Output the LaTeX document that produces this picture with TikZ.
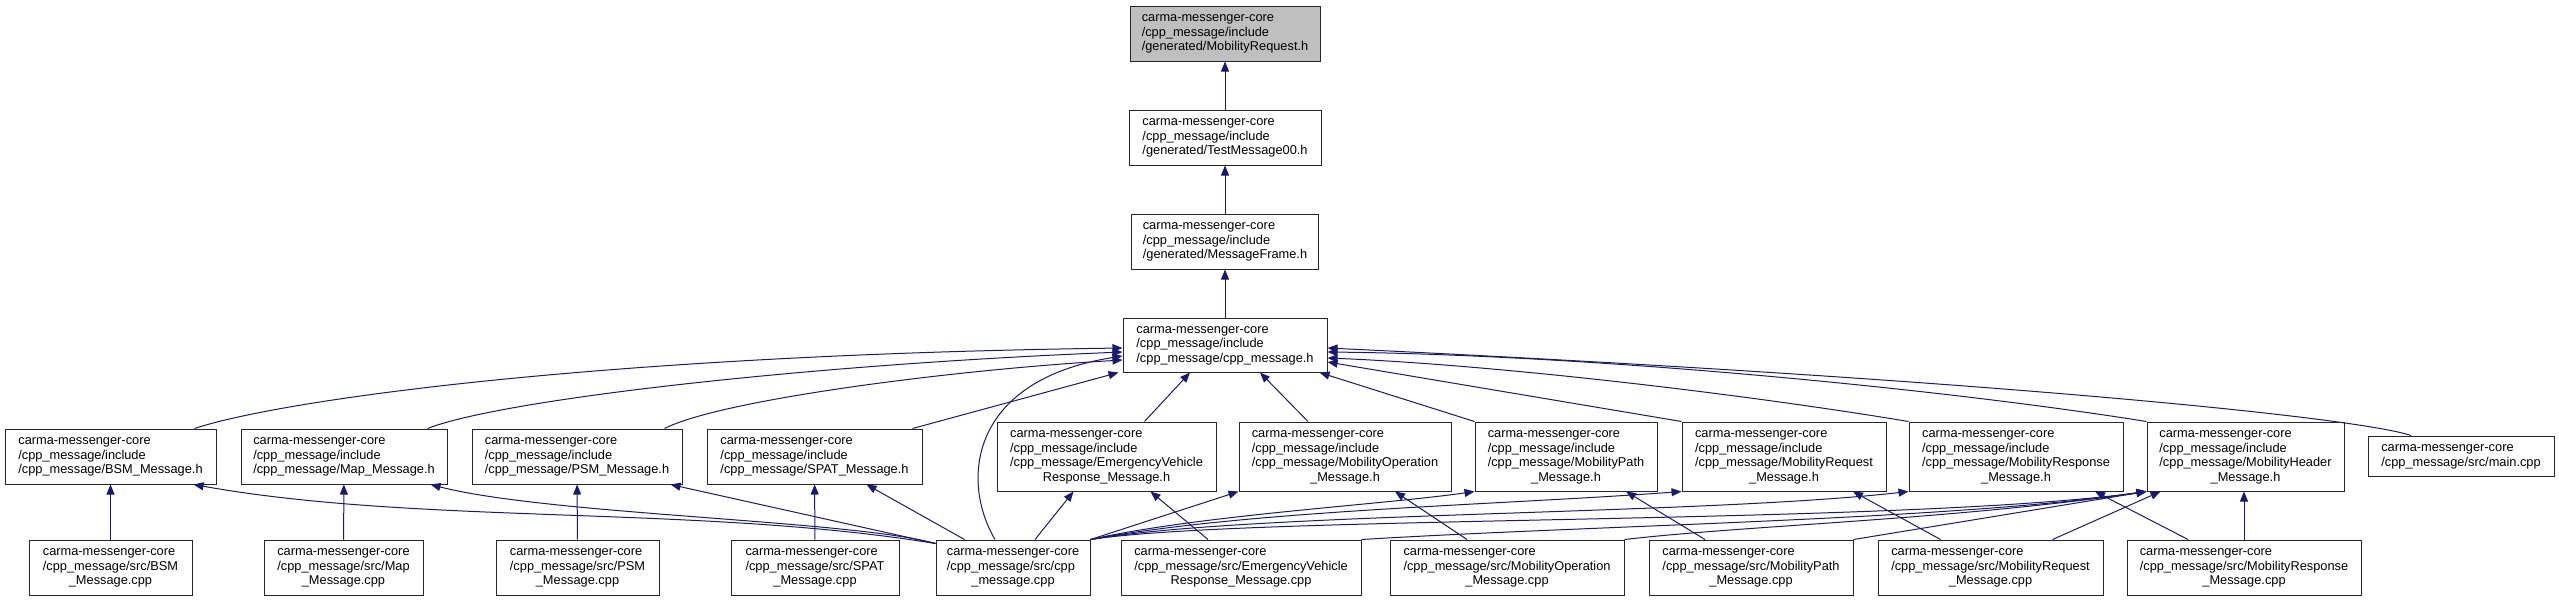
\documentclass[tikz,border=0pt]{standalone}
\usepackage{fontspec}
\setmainfont{Liberation Sans}
\usepackage{xcolor}
\usepackage{tikz}
\usetikzlibrary{arrows.meta,calc}
\definecolor{edgeblue}{RGB}{25,25,112}
% file label: left lines, last line centred
\newcommand{\flab}[2]{\begin{tabular}{@{}l@{}}#1\\\multicolumn{1}{@{}c@{}}{#2}\end{tabular}}
\begin{document}
\begin{tikzpicture}[x=0.75pt,y=-0.75pt,
  sz/.style 2 args={minimum width=#1*0.75pt,minimum height=#2*0.75pt},
  fnode/.style={draw=black!85,line width=0.75pt,inner sep=0pt,fill=white,font=\fontsize{9.6}{10.9}\selectfont},
  fsel/.style={fnode,fill=black!25},
  inc/.style={-{Triangle[length=7.5pt,width=6pt]},draw=edgeblue,line width=0.75pt}]
\useasboundingbox (0,0) rectangle (2559,601);
% include chain
\node[fsel,sz={190}{55}]  (req)   at (1225,33.5)  {\flab{carma-messenger-core\\/cpp\_message/include}{/generated/MobilityRequest.h}};
\node[fnode,sz={192}{55}] (test)  at (1225,137.5) {\flab{carma-messenger-core\\/cpp\_message/include}{/generated/TestMessage00.h}};
\node[fnode,sz={187}{55}] (frame) at (1225,241.5) {\flab{carma-messenger-core\\/cpp\_message/include}{/generated/MessageFrame.h}};
\node[fnode,sz={204}{54}] (cpph)  at (1225,345)   {\flab{carma-messenger-core\\/cpp\_message/include}{/cpp\_message/cpp\_message.h}};
% headers
\node[fnode,sz={211}{55}] (bsmh)   at (110.5,456.5)  {\flab{carma-messenger-core\\/cpp\_message/include}{/cpp\_message/BSM\_Message.h}};
\node[fnode,sz={206}{55}] (maph)   at (344,456.5)    {\flab{carma-messenger-core\\/cpp\_message/include}{/cpp\_message/Map\_Message.h}};
\node[fnode,sz={210}{55}] (psmh)   at (577,456.5)    {\flab{carma-messenger-core\\/cpp\_message/include}{/cpp\_message/PSM\_Message.h}};
\node[fnode,sz={215}{55}] (spath)  at (814.5,456.5)  {\flab{carma-messenger-core\\/cpp\_message/include}{/cpp\_message/SPAT\_Message.h}};
\node[fnode,sz={219}{69}] (evh)    at (1106.5,456.5) {\flab{carma-messenger-core\\/cpp\_message/include\\/cpp\_message/EmergencyVehicle}{Response\_Message.h}};
\node[fnode,sz={212}{69}] (moph)   at (1345,456.5)   {\flab{carma-messenger-core\\/cpp\_message/include\\/cpp\_message/MobilityOperation}{\_Message.h}};
\node[fnode,sz={182}{69}] (mpathh) at (1566,456.5)   {\flab{carma-messenger-core\\/cpp\_message/include\\/cpp\_message/MobilityPath}{\_Message.h}};
\node[fnode,sz={204}{69}] (mreqh)  at (1784,456.5)   {\flab{carma-messenger-core\\/cpp\_message/include\\/cpp\_message/MobilityRequest}{\_Message.h}};
\node[fnode,sz={214}{69}] (mresph) at (2016,456.5)   {\flab{carma-messenger-core\\/cpp\_message/include\\/cpp\_message/MobilityResponse}{\_Message.h}};
\node[fnode,sz={197}{69}] (mheadh) at (2245.5,456.5) {\flab{carma-messenger-core\\/cpp\_message/include\\/cpp\_message/MobilityHeader}{\_Message.h}};
\node[fnode,sz={186}{40}] (mainc)  at (2461,456)     {\flab{carma-messenger-core}{/cpp\_message/src/main.cpp}};
% sources
\node[fnode,sz={163}{55}] (bsmc)   at (110.5,567.5)  {\flab{carma-messenger-core\\/cpp\_message/src/BSM}{\_Message.cpp}};
\node[fnode,sz={159}{55}] (mapc)   at (343.5,567.5)  {\flab{carma-messenger-core\\/cpp\_message/src/Map}{\_Message.cpp}};
\node[fnode,sz={163}{55}] (psmc)   at (577.5,567.5)  {\flab{carma-messenger-core\\/cpp\_message/src/PSM}{\_Message.cpp}};
\node[fnode,sz={168}{55}] (spatc)  at (815,567.5)    {\flab{carma-messenger-core\\/cpp\_message/src/SPAT}{\_Message.cpp}};
\node[fnode,sz={154}{55}] (cppc)   at (1013,567.5)   {\flab{carma-messenger-core\\/cpp\_message/src/cpp}{\_message.cpp}};
\node[fnode,sz={240}{55}] (evc)    at (1241,567.5)   {\flab{carma-messenger-core\\/cpp\_message/src/EmergencyVehicle}{Response\_Message.cpp}};
\node[fnode,sz={234}{55}] (mopc)   at (1507,567.5)   {\flab{carma-messenger-core\\/cpp\_message/src/MobilityOperation}{\_Message.cpp}};
\node[fnode,sz={204}{55}] (mpathc) at (1751,567.5)   {\flab{carma-messenger-core\\/cpp\_message/src/MobilityPath}{\_Message.cpp}};
\node[fnode,sz={225}{55}] (mreqc)  at (1990.5,567.5) {\flab{carma-messenger-core\\/cpp\_message/src/MobilityRequest}{\_Message.cpp}};
\node[fnode,sz={234}{55}] (mrespc) at (2244,567.5)   {\flab{carma-messenger-core\\/cpp\_message/src/MobilityResponse}{\_Message.cpp}};
% chain edges
\draw[inc] (test) -- (req);
\draw[inc] (frame) -- (test);
\draw[inc] (cpph) -- (frame);
% headers to cpp_message.h
\draw[inc] ($(bsmh.north east)+(-22,0)$) .. controls (280,400) and (600,355) .. ($(cpph.west)+(0,3)$);
\draw[inc] ($(maph.north east)+(-20,0)$) .. controls (500,400) and (800,365) .. ($(cpph.west)+(0,7)$);
\draw[inc] ($(psmh.north east)+(-18,0)$) .. controls (720,400) and (950,370) .. ($(cpph.west)+(0,15)$);
\draw[inc] ($(spath.north east)+(-10,0)$) -- ($(cpph.south west)+(-4,0)$);
\draw[inc] ($(cppc.north)+(-18,0)$) .. controls (960,480) and (970,380) .. ($(cpph.west)+(0,11)$);
\draw[inc] ($(evh.north)+(38,0)$) -- ($(cpph.south)+(-35,0)$);
\draw[inc] ($(moph.north)+(-37,0)$) -- ($(cpph.south)+(35,0)$);
\draw[inc] (mpathh.north west) -- ($(cpph.south east)+(-8,0)$);
\draw[inc] (mreqh.north west) -- ($(cpph.east)+(0,17)$);
\draw[inc] (mresph.north west) .. controls (1750,395) and (1500,365) .. ($(cpph.east)+(0,13)$);
\draw[inc] (mheadh.north west) .. controls (1950,390) and (1600,355) .. ($(cpph.east)+(0,7)$);
\draw[inc] ($(mainc.north)+(-50,0)$) .. controls (2360,418) and (2000,380) .. ($(cpph.east)+(0,3)$);
% sources to their headers
\draw[inc] (bsmc) -- (bsmh);
\draw[inc] (mapc) -- (maph);
\draw[inc] (psmc) -- (psmh);
\draw[inc] (spatc) -- (spath);
\draw[inc] ($(evc.north)+(-33,0)$) -- ($(evh.south)+(44,0)$);
\draw[inc] ($(mopc.north)+(-40,0)$) -- ($(moph.south)+(50,0)$);
\draw[inc] ($(mpathc.north)+(-46,0)$) -- ($(mpathh.south)+(60,0)$);
\draw[inc] ($(mreqc.north)+(-50,0)$) -- ($(mreqh.south)+(69,0)$);
\draw[inc] ($(mrespc.north)+(-56,0)$) -- ($(mresph.south)+(79,0)$);
\draw[inc] (mrespc.north) -- (mrespc.north |- mheadh.south);
% cpp_message.cpp to headers
\draw[inc] ($(cppc.north west)+(0,4)$) .. controls (700,505) and (420,525) .. ($(bsmh.south east)+(-23,0)$);
\draw[inc] ($(cppc.north west)+(0,4)$) .. controls (850,520) and (550,515) .. ($(maph.south east)+(-17,0)$);
\draw[inc] ($(cppc.north west)+(0,4)$) -- ($(psmh.south east)+(-12,0)$);
\draw[inc] ($(cppc.north west)+(29,0)$) -- ($(spath.south east)+(-56,0)$);
\draw[inc] ($(cppc.north)+(22,0)$) -- ($(evh.south)+(-33,0)$);
\draw[inc] (cppc.north east) -- (moph.south west);
\draw[inc] (cppc.north east) .. controls (1200,515) and (1380,505) .. (mpathh.south west);
\draw[inc] (cppc.north east) .. controls (1250,510) and (1500,505) .. (mreqh.south west);
\draw[inc] (cppc.north east) .. controls (1250,512) and (1700,515) .. (mresph.south west);
\draw[inc] (cppc.north east) .. controls (1250,515) and (1900,525) .. (mheadh.south west);
% other sources to MobilityHeader
\draw[inc] (evc.north east) .. controls (1600,525) and (1950,520) .. (mheadh.south west);
\draw[inc] (mopc.north east) .. controls (1750,525) and (1950,520) .. (mheadh.south west);
\draw[inc] (mpathc.north east) -- (mheadh.south west);
\draw[inc] ($(mreqc.north)+(62,0)$) -- ($(mheadh.south)+(-85,0)$);
\end{tikzpicture}
\end{document}
